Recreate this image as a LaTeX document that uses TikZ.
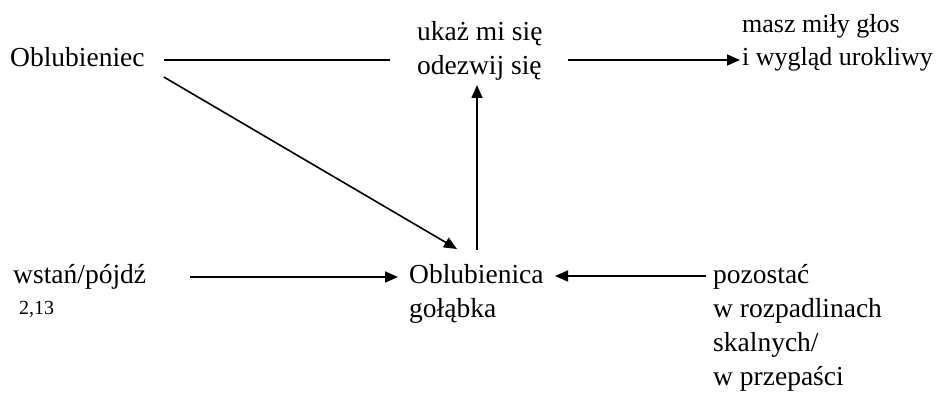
\documentclass[tikz,border=0pt]{standalone}
\usepackage{fontspec}
\setmainfont{Liberation Serif}
\usetikzlibrary{arrows.meta}
\begin{document}
\begin{tikzpicture}[x=1pt,y=-1pt,
  lbl/.style={anchor=base west, inner sep=0pt, font=\fontsize{27.5}{34}\selectfont},
  conn/.style={line width=1.6pt},
  arr/.style={conn, -{Triangle[length=13pt,width=11pt]}}]
\useasboundingbox (0,0) rectangle (938,395);
\node[lbl] (ob) at (10,67) {Oblubieniec};
\node[lbl] (uk) at (417,41) {\vtop{\hbox{ukaż mi się}\hbox{odezwij się}}};
\node[lbl, font=\fontsize{26}{33}\selectfont] (ms) at (742,33) {\vtop{\hbox{masz miły głos}\hbox{i wygląd urokliwy}}};
\node[lbl] (ws) at (13,284) {\vtop{\hbox{wstań/pójdź}\kern-3pt\hbox{\hspace{6pt}\fontsize{20}{24}\selectfont 2,13}}};
\node[lbl] (ol) at (409,284) {\vtop{\hbox{Oblubienica}\hbox{gołąbka}}};
\node[lbl] (po) at (713,284) {\vtop{\hbox{pozostać}\hbox{w rozpadlinach}\hbox{skalnych/}\hbox{w przepaści}}};
\draw[conn] ([shift={(19,-7)}]ob.base east) -- ([shift={(-27,19)}]uk.base west);
\draw[arr] ([shift={(19,10)}]ob.base east) -- ([shift={(48,-35)}]ol.base west);
\draw[arr] ([shift={(68,-34)}]ol.base west) -- ([shift={(60,44)}]uk.base west);
\draw[arr] ([shift={(151,19)}]uk.base west) -- ([shift={(-2,27)}]ms.base west);
\draw[arr] ([shift={(177,-7)}]ws.base west) -- ([shift={(-11,-7)}]ol.base west);
\draw[arr] ([shift={(-7,-8)}]po.base west) -- ([shift={(146,-8)}]ol.base west);
\end{tikzpicture}
\end{document}
